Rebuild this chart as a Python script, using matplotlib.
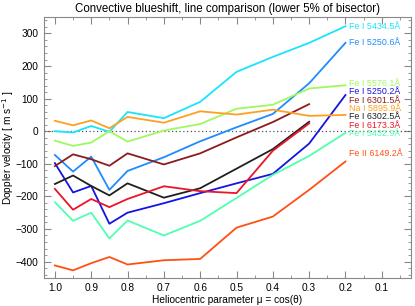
import matplotlib
matplotlib.use("Agg")
import matplotlib.pyplot as plt
from matplotlib.ticker import MultipleLocator

plt.rcParams['font.family'] = ['Liberation Sans', 'DejaVu Sans']

# положения на диске
mu = [1.0, 0.95, 0.9, 0.85, 0.8, 0.7, 0.6, 0.5, 0.4, 0.3, 0.2]

# конвективный сдвиг, м/с
fe5434 = [0, -4, 16, -2, 59, 40, 90, 182, 228, 271, 322]
fe5250_6 = [-73, -124, -78, -180, -122, -80, -31, 12, 53, 147, 271]
fe5576 = [-29, -45, -35, 0, -32, 2, 22, 69, 81, 131, 141]
fe5250_2 = [-98, -188, -168, -284, -250, -221, -190, -160, -131, -38, 111]
fe6301 = [-107, -71, -86, -106, -68, -102, -68, -19, 28, 83]
na5895 = [32, 18, 33, 9, 44, 26, 61, 51, 66, 47, 50]
fe6302 = [-162, -136, -168, -197, -160, -204, -175, -115, -55, 29]
fe6173 = [-177, -241, -208, -233, -208, -169, -184, -190, -60, 24]
fe5432 = [-218, -275, -250, -329, -274, -320, -275, -205, -134, -76, -5]
fe6149 = [-412, -427, -405, -386, -409, -396, -392, -296, -262, -180, -93]

series = [
    (fe5434, 'Fe I 5434.5Å', '#18e4ff', 26.7),
    (fe5250_6, 'Fe I 5250.6Å', '#1e8cff', 42.3),
    (fe5576, 'Fe I 5576.1Å', '#a0f860', 83.3),
    (fe5250_2, 'Fe I 5250.2Å', '#1414e0', 91.5),
    (fe6301, 'Fe I 6301.5Å', '#8c1c1c', 100),
    (na5895, 'Na I 5895.9Å', '#ffa020', 108),
    (fe6302, 'Fe I 6302.5Å', '#202020', 116.5),
    (fe6173, 'Fe I 6173.3Å', '#ec1428', 125),
    (fe5432, 'Fe I 5432.9Å', '#50ffb0', 133.5),
    (fe6149, 'Fe II 6149.2Å', '#ff5014', 153.5),
]

fig = plt.figure(figsize=(4.15, 3.06), dpi=100)
ax = fig.add_axes([0.106, 0.092, 0.884, 0.852])

ax.axhline(0, color='#555555', lw=0.9, ls=(0, (1, 2)))

for vals, name, col, ypix in series:
    ax.plot(mu[:len(vals)], vals, color=col, lw=1.3)
    # подписи справа, позиция в пикселях картинки
    yv = (131.2 - ypix) / 0.3263
    ax.text(0.19, yv, name, color=col, fontsize=6.4, ha='left', va='center')

ax.set_xlim(1.03, 0.02)
ax.set_ylim(-450, 350)
ax.xaxis.set_major_locator(MultipleLocator(0.1))
ax.xaxis.set_minor_locator(MultipleLocator(0.05))
ax.yaxis.set_major_locator(MultipleLocator(100))
ax.yaxis.set_minor_locator(MultipleLocator(20))
ax.xaxis.set_major_formatter(plt.FuncFormatter(lambda v, p: f'{v:.1f}'))

ax.tick_params(which='both', direction='in', top=True, right=True,
               color='#888888', labelsize=7.3, pad=4)
ax.tick_params(which='major', length=5)
ax.tick_params(which='minor', length=2.5)
for s in ax.spines.values():
    s.set_color('#888888')

ax.set_title('Convective blueshift, line comparison (lower 5% of bisector)',
             fontsize=8.3, pad=4)
ax.set_xlabel('Heliocentric parameter μ = cos(θ)', fontsize=7.3, labelpad=1)
ax.set_ylabel('Doppler velocity [ m s$^{-1}$ ]', fontsize=7.3, labelpad=0)

plt.savefig('out.png', dpi=100)
